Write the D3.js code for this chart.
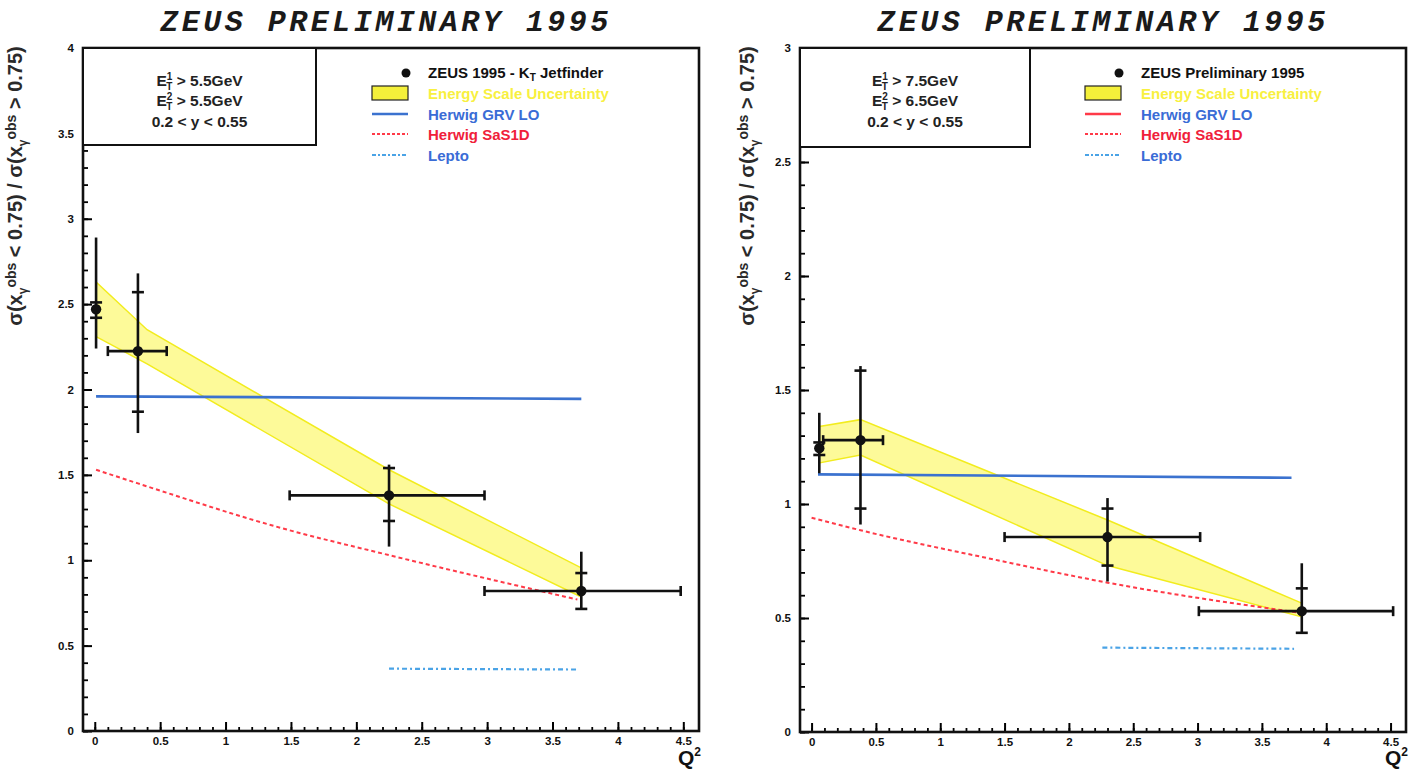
<!DOCTYPE html>
<html>
<head>
<meta charset="utf-8">
<script src="https://cdn.jsdelivr.net/npm/d3@7"></script>
<style>
  body { margin: 0; background: #fff; }
  svg { display: block; }
  text { font-family: "Liberation Sans", Arial, sans-serif; }
</style>
</head>
<body>
<div id="viz"></div>
<script>
var width = 1418, height = 771;

// x axis ticks (Q^2), same for both panels
var q2Ticks = [0, 0.5, 1, 1.5, 2, 2.5, 3, 3.5, 4, 4.5];

// ---- left panel : Et1 > 5.5, Et2 > 5.5
var leftCuts = ['5.5GeV', '5.5GeV'];
var leftQ2 = [0.01, 0.33, 2.25, 3.72];
var leftRatio = [2.47, 2.225, 1.38, 0.82];
var leftStatLo = [2.42, 1.87, 1.23, 0.715];
var leftStatHi = [2.51, 2.57, 1.54, 0.925];
var leftTotLo = [2.24, 1.745, 1.08, 0.71];
var leftTotHi = [2.89, 2.68, 1.56, 1.05];
var leftQ2Lo = [null, 0.10, 1.49, 2.98];
var leftQ2Hi = [null, 0.55, 2.98, 4.48];
var leftBandQ2 = [0.01, 0.40, 2.25, 3.72];
var leftBandHi = [2.63, 2.35, 1.53, 0.955];
var leftBandLo = [2.31, 2.15, 1.33, 0.785];
var leftGrvQ2 = [0.01, 3.72];
var leftGrv = [1.96, 1.945];
var leftSasQ2 = [0.01, 0.33, 1.42, 2.25, 3.69];
var leftSas = [1.53, 1.45, 1.19, 1.03, 0.77];
var leftLeptoQ2 = [2.25, 3.70];
var leftLepto = [0.365, 0.36];
var leftYTicks = [0, 0.5, 1, 1.5, 2, 2.5, 3, 3.5, 4];

// ---- right panel : Et1 > 7.5, Et2 > 6.5
var rightCuts = ['7.5GeV', '6.5GeV'];
var rightQ2 = [0.06, 0.38, 2.30, 3.81];
var rightRatio = [1.245, 1.28, 0.855, 0.53];
var rightStatLo = [1.215, 0.98, 0.73, 0.435];
var rightStatHi = [1.27, 1.585, 0.98, 0.63];
var rightTotLo = [1.135, 0.91, 0.66, 0.43];
var rightTotHi = [1.40, 1.605, 1.026, 0.74];
var rightQ2Lo = [null, 0.09, 1.50, 3.01];
var rightQ2Hi = [null, 0.555, 3.02, 4.52];
var rightBandQ2 = [0.06, 0.38, 2.30, 3.81];
var rightBandHi = [1.34, 1.37, 0.93, 0.565];
var rightBandLo = [1.18, 1.215, 0.73, 0.505];
var rightGrvQ2 = [0.05, 3.73];
var rightGrv = [1.13, 1.115];
var rightSasQ2 = [0.0, 0.38, 1.39, 2.30, 3.77];
var rightSas = [0.94, 0.885, 0.76, 0.655, 0.525];
var rightLeptoQ2 = [2.26, 3.75];
var rightLepto = [0.37, 0.365];
var rightYTicks = [0, 0.5, 1, 1.5, 2, 2.5, 3];

var legendLabels = ['Energy Scale Uncertainty', 'Herwig GRV LO', 'Herwig SaS1D', 'Lepto'];

var col = {
  band: '#fdf98e', bandEdge: '#f2ec1e', grv: '#3b72cf', sas: '#ff3a48',
  lepto: '#4aa3e6', legYellow: '#f8f040', legBlue: '#3a6cd6', legRed: '#f0203a'
};

var svg = d3.select('#viz').append('svg')
  .attr('width', width)
  .attr('height', height);

function zip(xs, ys) {
  return xs.map(function(v, i) { return {q: v, r: ys[i]}; });
}

function drawPanel(p) {
  var x = d3.scaleLinear().domain([-0.09, 4.62]).range([p.left, p.right]);
  var y = d3.scaleLinear().domain([0, p.ymax]).range([p.bottom, p.top]);
  var g = svg.append('g');

  // title
  g.append('text')
    .attr('x', p.titleX).attr('y', 31)
    .attr('text-anchor', 'middle')
    .style('font-family', '"Liberation Mono", "Courier New", monospace')
    .style('font-weight', 'bold').style('font-style', 'italic')
    .style('font-size', '30px')
    .style('letter-spacing', '3.5px')
    .attr('fill', '#1a1a1a')
    .text('ZEUS PRELIMINARY 1995');

  // y title (rotated)
  var yt = g.append('text')
    .attr('transform', 'translate(' + p.yTitleX + ',186) rotate(-90)')
    .attr('text-anchor', 'middle')
    .style('font-family', '"Liberation Sans Narrow", "Liberation Sans", Arial, sans-serif')
    .style('font-size', '20px').style('font-weight', 'bold').style('fill', '#2a2a2a');
  yt.append('tspan').text('\u03c3(x');
  yt.append('tspan').attr('dy', 5).style('font-size', '12px').text('\u03b3');
  yt.append('tspan').attr('dy', -11).style('font-size', '14px').text('obs');
  yt.append('tspan').attr('dy', 6).text(' < 0.75) / \u03c3(x');
  yt.append('tspan').attr('dy', 5).style('font-size', '12px').text('\u03b3');
  yt.append('tspan').attr('dy', -11).style('font-size', '14px').text('obs');
  yt.append('tspan').attr('dy', 6).text(' > 0.75)');

  // band
  var band = zip(p.bandQ2, p.bandHi).map(function(d, i) { d.lo = p.bandLo[i]; return d; });
  g.append('path').datum(band)
    .attr('d', d3.area().x(function(d) { return x(d.q); })
      .y0(function(d) { return y(d.lo); }).y1(function(d) { return y(d.r); }))
    .attr('fill', col.band).attr('fill-opacity', 0.9)
    .attr('stroke', col.bandEdge).attr('stroke-width', 1.5);

  var line = d3.line().x(function(d) { return x(d.q); }).y(function(d) { return y(d.r); });
  var smooth = d3.line().curve(d3.curveMonotoneX)
    .x(function(d) { return x(d.q); }).y(function(d) { return y(d.r); });

  g.append('path').datum(zip(p.grvQ2, p.grv))
    .attr('d', line).attr('fill', 'none')
    .attr('stroke', col.grv).attr('stroke-width', 2.6);

  g.append('path').datum(zip(p.sasQ2, p.sas))
    .attr('d', smooth).attr('fill', 'none')
    .attr('stroke', col.sas).attr('stroke-width', 2)
    .attr('stroke-dasharray', '4,3');

  g.append('path').datum(zip(p.leptoQ2, p.lepto))
    .attr('d', line).attr('fill', 'none')
    .attr('stroke', col.lepto).attr('stroke-width', 2.2)
    .attr('stroke-dasharray', '5,3,2,3');

  // data points with errors
  var pts = p.q2.map(function(q, i) {
    return {q: q, r: p.ratio[i], sLo: p.statLo[i], sHi: p.statHi[i],
      tLo: p.totLo[i], tHi: p.totHi[i], qLo: p.q2Lo[i], qHi: p.q2Hi[i]};
  });
  var pg = g.selectAll('.pt').data(pts).enter().append('g').attr('class', 'pt')
    .attr('stroke', '#111').attr('stroke-width', 2.6);
  pg.append('line')
    .attr('x1', function(d) { return x(d.q); }).attr('x2', function(d) { return x(d.q); })
    .attr('y1', function(d) { return y(d.tLo); }).attr('y2', function(d) { return y(d.tHi); });
  ['sLo', 'sHi'].forEach(function(k) {
    pg.append('line')
      .attr('x1', function(d) { return x(d.q) - 6; }).attr('x2', function(d) { return x(d.q) + 6; })
      .attr('y1', function(d) { return y(d[k]); }).attr('y2', function(d) { return y(d[k]); });
  });
  var hb = pg.filter(function(d) { return d.qLo !== null; });
  hb.append('line')
    .attr('x1', function(d) { return x(d.qLo); }).attr('x2', function(d) { return x(d.qHi); })
    .attr('y1', function(d) { return y(d.r); }).attr('y2', function(d) { return y(d.r); });
  ['qLo', 'qHi'].forEach(function(k) {
    hb.append('line')
      .attr('x1', function(d) { return x(d[k]); }).attr('x2', function(d) { return x(d[k]); })
      .attr('y1', function(d) { return y(d.r) - 5; }).attr('y2', function(d) { return y(d.r) + 5; });
  });
  pg.append('circle')
    .attr('cx', function(d) { return x(d.q); }).attr('cy', function(d) { return y(d.r); })
    .attr('r', 5.2).attr('fill', '#111').attr('stroke', 'none');

  // axes : major ticks inward, minor ticks every 0.1
  var xMinor = d3.range(0, 46).map(function(i) { return i / 10; })
    .filter(function(v) { return x(v) < p.right - 2; });
  var yMinor = d3.range(0, p.ymax * 10 + 1).map(function(i) { return i / 10; });

  g.append('g').attr('transform', 'translate(0,' + p.bottom + ')')
    .call(d3.axisBottom(x).tickValues(xMinor).tickSize(-4).tickFormat(''))
    .call(function(a) { a.select('.domain').remove(); a.selectAll('line').attr('stroke-width', 1.8); });
  g.append('g').attr('transform', 'translate(0,' + p.bottom + ')')
    .call(d3.axisBottom(x).tickValues(q2Ticks).tickSize(-9).tickPadding(6).tickFormat(d3.format('')))
    .call(function(a) {
      a.select('.domain').remove();
      a.selectAll('line').attr('stroke-width', 2);
      a.selectAll('text').attr('y', 6).style('font-size', '11.5px').style('font-weight', 'bold').attr('fill', '#111');
    });

  g.append('g').attr('transform', 'translate(' + p.left + ',0)')
    .call(d3.axisLeft(y).tickValues(yMinor).tickSize(-5).tickFormat(''))
    .call(function(a) { a.select('.domain').remove(); a.selectAll('line').attr('stroke-width', 1.8); });
  g.append('g').attr('transform', 'translate(' + p.left + ',0)')
    .call(d3.axisLeft(y).tickValues(p.yTicks).tickSize(-9).tickPadding(18).tickFormat(d3.format('')))
    .call(function(a) {
      a.select('.domain').remove();
      a.selectAll('line').attr('stroke-width', 2);
      a.selectAll('text').attr('x', -9).style('font-size', '11.5px').style('font-weight', 'bold').attr('fill', '#111');
    });

  // frame
  g.append('rect')
    .attr('x', p.left).attr('y', p.top)
    .attr('width', p.right - p.left).attr('height', p.bottom - p.top)
    .attr('fill', 'none').attr('stroke', '#111').attr('stroke-width', 2.6);

  // Q^2 label
  var ql = g.append('text').attr('x', p.right + 2).attr('y', 765).attr('text-anchor', 'end')
    .style('font-size', '21px').style('font-weight', 'bold').attr('fill', '#111');
  ql.append('tspan').text('Q');
  ql.append('tspan').attr('dy', -9).style('font-size', '12px').text('2');

  // cuts box
  g.append('rect')
    .attr('x', p.left).attr('y', p.top)
    .attr('width', p.cutW).attr('height', p.cutH)
    .attr('fill', '#fff').attr('stroke', '#111').attr('stroke-width', 2);
  var cx = p.left + p.cutW / 2;
  p.cuts.forEach(function(c, i) {
    var t = g.append('text').attr('x', cx).attr('y', 86 + i * 20).attr('text-anchor', 'middle')
      .style('font-size', '15.5px').style('font-weight', 'bold').attr('fill', '#222');
    t.append('tspan').text('E');
    t.append('tspan').attr('dy', -6).style('font-size', '10px').text(i + 1);
    t.append('tspan').attr('dx', -6).attr('dy', 10).style('font-size', '10px').text('T');
    t.append('tspan').attr('dy', -4).text(' > ' + c);
  });
  g.append('text').attr('x', cx).attr('y', 127).attr('text-anchor', 'middle')
    .style('font-size', '15.5px').style('font-weight', 'bold').attr('fill', '#222')
    .text('0.2 < y < 0.55');

  // legend
  var lx = p.legX, tx = p.legX + 56;
  g.append('circle').attr('cx', lx + 34).attr('cy', 73).attr('r', 4.5).attr('fill', '#111');
  var lt = g.append('text').attr('x', tx).attr('y', 78)
    .style('font-size', '15px').style('font-weight', 'bold').attr('fill', '#111');
  p.dataLabel.forEach(function(s) {
    var ts = lt.append('tspan').text(s.t);
    if (s.sub) ts.attr('dy', 3).style('font-size', '10px');
    if (s.back) ts.attr('dy', -3);
  });
  g.append('rect').attr('x', lx).attr('y', 86).attr('width', 36).attr('height', 14)
    .attr('fill', '#f4f03a').attr('stroke', '#222').attr('stroke-width', 1.2);
  var legCols = [col.legYellow, col.legBlue, col.legRed, col.legBlue];
  legendLabels.forEach(function(s, i) {
    g.append('text').attr('x', tx).attr('y', 99 + i * 20.5)
      .style('font-size', '15px').style('font-weight', 'bold').attr('fill', legCols[i]).text(s);
  });
  g.append('line').attr('x1', lx).attr('x2', lx + 36).attr('y1', 114).attr('y2', 114)
    .attr('stroke', p.grvLegColor).attr('stroke-width', 2.5);
  g.append('line').attr('x1', lx).attr('x2', lx + 36).attr('y1', 134).attr('y2', 134)
    .attr('stroke', col.sas).attr('stroke-width', 2).attr('stroke-dasharray', '3,2');
  g.append('line').attr('x1', lx).attr('x2', lx + 36).attr('y1', 155).attr('y2', 155)
    .attr('stroke', col.lepto).attr('stroke-width', 2).attr('stroke-dasharray', '4,2,2,2');
}

drawPanel({
  left: 83, right: 699, top: 48, bottom: 731, ymax: 4, yTicks: leftYTicks,
  titleX: 386, yTitleX: 22, cutW: 233, cutH: 97, cuts: leftCuts, legX: 372, grvLegColor: col.grv,
  dataLabel: [{t: 'ZEUS 1995 - K'}, {t: 'T', sub: true}, {t: ' Jetfinder', back: true}],
  q2: leftQ2, ratio: leftRatio, statLo: leftStatLo, statHi: leftStatHi,
  totLo: leftTotLo, totHi: leftTotHi, q2Lo: leftQ2Lo, q2Hi: leftQ2Hi,
  bandQ2: leftBandQ2, bandHi: leftBandHi, bandLo: leftBandLo,
  grvQ2: leftGrvQ2, grv: leftGrv, sasQ2: leftSasQ2, sas: leftSas,
  leptoQ2: leftLeptoQ2, lepto: leftLepto
});

drawPanel({
  left: 800, right: 1406, top: 48, bottom: 732, ymax: 3, yTicks: rightYTicks,
  titleX: 1103, yTitleX: 754, cutW: 230, cutH: 99, cuts: rightCuts, legX: 1085, grvLegColor: col.sas,
  dataLabel: [{t: 'ZEUS Preliminary 1995'}],
  q2: rightQ2, ratio: rightRatio, statLo: rightStatLo, statHi: rightStatHi,
  totLo: rightTotLo, totHi: rightTotHi, q2Lo: rightQ2Lo, q2Hi: rightQ2Hi,
  bandQ2: rightBandQ2, bandHi: rightBandHi, bandLo: rightBandLo,
  grvQ2: rightGrvQ2, grv: rightGrv, sasQ2: rightSasQ2, sas: rightSas,
  leptoQ2: rightLeptoQ2, lepto: rightLepto
});
</script>
</body>
</html>
